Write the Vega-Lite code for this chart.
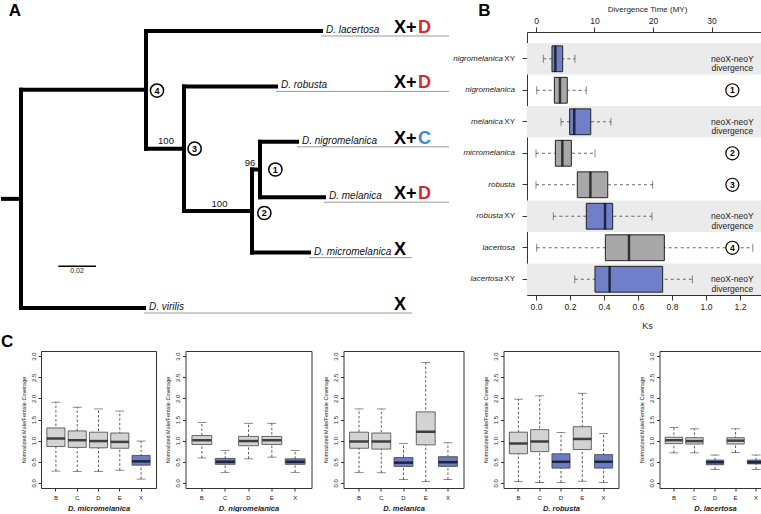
{
  "$schema": "https://vega.github.io/schema/vega-lite/v6.json",
  "padding": {"left": 0, "top": 1, "right": 0, "bottom": 0},
  "background": "white",
  "config": {
    "font": "Liberation Sans",
    "view": {"stroke": "#333", "strokeWidth": 1},
    "axis": {"grid": false, "labelColor": "#222", "tickColor": "#333", "titleColor": "#222", "titleFontWeight": "normal", "domain": false, "labelOverlap": false}
  },
  "datasets": {
    "tree": [
      {"x": 0.00105, "x2": 0.01053, "y": 3.03, "y2": 3.03},
      {"x": 0.01053, "x2": 0.01053, "y": 1.0625, "y2": 5},
      {"x": 0.01053, "x2": 0.07526, "y": 5, "y2": 5},
      {"x": 0.01053, "x2": 0.07632, "y": 1.0625, "y2": 1.0625},
      {"x": 0.07632, "x2": 0.07632, "y": 0, "y2": 2.125},
      {"x": 0.07632, "x2": 0.16842, "y": 0, "y2": 0},
      {"x": 0.07632, "x2": 0.09632, "y": 2.125, "y2": 2.125},
      {"x": 0.09632, "x2": 0.09632, "y": 1, "y2": 3.25},
      {"x": 0.09632, "x2": 0.14474, "y": 1, "y2": 1},
      {"x": 0.09632, "x2": 0.13211, "y": 3.25, "y2": 3.25},
      {"x": 0.13211, "x2": 0.13211, "y": 2.5, "y2": 4},
      {"x": 0.13211, "x2": 0.16211, "y": 4, "y2": 4},
      {"x": 0.13211, "x2": 0.13632, "y": 2.5, "y2": 2.5},
      {"x": 0.13632, "x2": 0.13632, "y": 2, "y2": 3},
      {"x": 0.13632, "x2": 0.15579, "y": 2, "y2": 2},
      {"x": 0.13632, "x2": 0.17, "y": 3, "y2": 3}
    ],
    "tips": [
      {"name": "D. lacertosa", "x": 0.16842, "y": 0, "end": 0.23579, "kar": "X+", "k2": "D"},
      {"name": "D. robusta", "x": 0.14474, "y": 1, "end": 0.23579, "kar": "X+", "k2": "D"},
      {"name": "D. nigromelanica", "x": 0.15579, "y": 2, "end": 0.23579, "kar": "X+", "k2": "C"},
      {"name": "D. melanica", "x": 0.17, "y": 3, "end": 0.23579, "kar": "X+", "k2": "D"},
      {"name": "D. micromelanica", "x": 0.16211, "y": 4, "end": 0.21632, "kar": "X", "k2": ""},
      {"name": "D. virilis", "x": 0.07526, "y": 5, "end": 0.21632, "kar": "X", "k2": ""}
    ],
    "nodes": [
      {"x": 0.1444, "y": 2.5, "n": "1"},
      {"x": 0.1386, "y": 3.285, "n": "2"},
      {"x": 0.1019, "y": 2.125, "n": "3"},
      {"x": 0.0821, "y": 1.075, "n": "4"}
    ],
    "support": [
      {"x": 0.08684, "y": 1.99, "s": "100"},
      {"x": 0.115, "y": 3.12, "s": "100"},
      {"x": 0.13105, "y": 2.39, "s": "96"}
    ],
    "scalebar": [{"x": 0.03017, "x2": 0.05, "xm": 0.04, "y": 4.247, "lab": "0.02"}],
    "letters": [
      {"x": 0.00737, "y": -0.37, "t": "A"},
      {"x": 0.25447, "y": -0.37, "t": "B"}
    ],
    "ks": [
      {"row": "nigromelanica XY", "sp": "nigromelanica", "xy": "XY", "kind": "neo", "lo": 0.043, "q1": 0.094, "med": 0.114, "q3": 0.157, "hi": 0.229, "note": "neoX-neoY\ndivergence", "node": ""},
      {"row": "nigromelanica", "sp": "nigromelanica", "xy": "", "kind": "sp", "lo": 0.004, "q1": 0.108, "med": 0.141, "q3": 0.184, "hi": 0.296, "note": "", "node": "1"},
      {"row": "melanica XY", "sp": "melanica", "xy": "XY", "kind": "neo", "lo": 0.147, "q1": 0.198, "med": 0.225, "q3": 0.322, "hi": 0.441, "note": "neoX-neoY\ndivergence", "node": ""},
      {"row": "micromelanica", "sp": "micromelanica", "xy": "", "kind": "sp", "lo": 0.0, "q1": 0.114, "med": 0.155, "q3": 0.208, "hi": 0.347, "note": "", "node": "2"},
      {"row": "robusta", "sp": "robusta", "xy": "", "kind": "sp", "lo": 0.0, "q1": 0.243, "med": 0.32, "q3": 0.422, "hi": 0.686, "note": "", "node": "3"},
      {"row": "robusta XY", "sp": "robusta", "xy": "XY", "kind": "neo", "lo": 0.102, "q1": 0.296, "med": 0.406, "q3": 0.451, "hi": 0.682, "note": "neoX-neoY\ndivergence", "node": ""},
      {"row": "lacertosa", "sp": "lacertosa", "xy": "", "kind": "sp", "lo": 0.004, "q1": 0.408, "med": 0.547, "q3": 0.755, "hi": 1.275, "note": "", "node": "4"},
      {"row": "lacertosa XY", "sp": "lacertosa", "xy": "XY", "kind": "neo", "lo": 0.228, "q1": 0.347, "med": 0.433, "q3": 0.745, "hi": 0.92, "note": "neoX-neoY\ndivergence", "node": ""}
    ],
    "cov": [
      {"sp": "micromelanica", "cat": "B", "t": "g", "lo": 0.28, "q1": 0.86, "med": 1.05, "q3": 1.3, "hi": 1.91},
      {"sp": "micromelanica", "cat": "C", "t": "g", "lo": 0.27, "q1": 0.84, "med": 1.01, "q3": 1.23, "hi": 1.79},
      {"sp": "micromelanica", "cat": "D", "t": "g", "lo": 0.27, "q1": 0.83, "med": 0.99, "q3": 1.2, "hi": 1.75},
      {"sp": "micromelanica", "cat": "E", "t": "g", "lo": 0.3, "q1": 0.82, "med": 0.97, "q3": 1.18, "hi": 1.7},
      {"sp": "micromelanica", "cat": "X", "t": "b", "lo": 0.09, "q1": 0.42, "med": 0.51, "q3": 0.65, "hi": 0.99},
      {"sp": "nigromelanica", "cat": "B", "t": "g", "lo": 0.59, "q1": 0.91, "med": 1.01, "q3": 1.12, "hi": 1.43},
      {"sp": "nigromelanica", "cat": "C", "t": "b", "lo": 0.25, "q1": 0.44, "med": 0.5, "q3": 0.58, "hi": 0.77},
      {"sp": "nigromelanica", "cat": "D", "t": "g", "lo": 0.57, "q1": 0.88, "med": 0.99, "q3": 1.1, "hi": 1.41},
      {"sp": "nigromelanica", "cat": "E", "t": "g", "lo": 0.61, "q1": 0.91, "med": 1.01, "q3": 1.1, "hi": 1.41},
      {"sp": "nigromelanica", "cat": "X", "t": "b", "lo": 0.25, "q1": 0.44, "med": 0.5, "q3": 0.57, "hi": 0.77},
      {"sp": "melanica", "cat": "B", "t": "g", "lo": 0.25, "q1": 0.82, "med": 0.98, "q3": 1.2, "hi": 1.75},
      {"sp": "melanica", "cat": "C", "t": "g", "lo": 0.24, "q1": 0.8, "med": 0.98, "q3": 1.18, "hi": 1.75},
      {"sp": "melanica", "cat": "D", "t": "b", "lo": 0.08, "q1": 0.39, "med": 0.48, "q3": 0.6, "hi": 0.93},
      {"sp": "melanica", "cat": "E", "t": "g", "lo": 0.03, "q1": 0.9, "med": 1.21, "q3": 1.68, "hi": 2.85},
      {"sp": "melanica", "cat": "X", "t": "b", "lo": 0.08, "q1": 0.39, "med": 0.49, "q3": 0.62, "hi": 0.95},
      {"sp": "robusta", "cat": "B", "t": "g", "lo": 0.03, "q1": 0.69, "med": 0.93, "q3": 1.2, "hi": 1.98},
      {"sp": "robusta", "cat": "C", "t": "g", "lo": 0.01, "q1": 0.74, "med": 0.98, "q3": 1.26, "hi": 2.06},
      {"sp": "robusta", "cat": "D", "t": "b", "lo": 0.01, "q1": 0.35, "med": 0.5, "q3": 0.69, "hi": 1.19},
      {"sp": "robusta", "cat": "E", "t": "g", "lo": 0.04, "q1": 0.79, "med": 1.04, "q3": 1.33, "hi": 2.12},
      {"sp": "robusta", "cat": "X", "t": "b", "lo": 0.01, "q1": 0.35, "med": 0.5, "q3": 0.67, "hi": 1.17},
      {"sp": "lacertosa", "cat": "B", "t": "g", "lo": 0.71, "q1": 0.93, "med": 1.01, "q3": 1.08, "hi": 1.31},
      {"sp": "lacertosa", "cat": "C", "t": "g", "lo": 0.71, "q1": 0.92, "med": 0.99, "q3": 1.07, "hi": 1.28},
      {"sp": "lacertosa", "cat": "D", "t": "b", "lo": 0.32, "q1": 0.43, "med": 0.49, "q3": 0.54, "hi": 0.66},
      {"sp": "lacertosa", "cat": "E", "t": "g", "lo": 0.72, "q1": 0.92, "med": 1.0, "q3": 1.07, "hi": 1.28},
      {"sp": "lacertosa", "cat": "X", "t": "b", "lo": 0.32, "q1": 0.45, "med": 0.49, "q3": 0.54, "hi": 0.66}
    ]
  },
  "spacing": 1,
  "vconcat": [
    {
      "hconcat": [
        {
          "width": 410,
          "height": 263,
          "view": {"stroke": null},
          "layer": [
            {
              "data": {"name": "tree"},
              "mark": {"type": "rule", "strokeWidth": 4, "strokeCap": "square", "color": "#000"},
              "encoding": {
                "x": {"field": "x", "type": "quantitative", "scale": {"domain": [0.021053, 0.236842], "nice": false, "zero": false}, "axis": null},
                "x2": {"field": "x2"},
                "y": {"field": "y", "type": "quantitative", "scale": {"domain": [0.01805, 4.7653], "nice": false, "zero": false, "reverse": true}, "axis": null},
                "y2": {"field": "y2"}
              }
            },
            {
              "data": {"name": "tips"},
              "mark": {"type": "rule", "strokeWidth": 1, "color": "#9a9a9a", "yOffset": 5},
              "encoding": {
                "x": {"field": "x", "type": "quantitative"},
                "x2": {"field": "end"},
                "y": {"field": "y", "type": "quantitative"}
              }
            },
            {
              "data": {"name": "tips"},
              "mark": {"type": "text", "align": "left", "baseline": "middle", "dx": 5, "dy": -1, "fontSize": 10, "fontStyle": "italic", "color": "#111"},
              "encoding": {
                "x": {"field": "x", "type": "quantitative"},
                "y": {"field": "y", "type": "quantitative"},
                "text": {"field": "name"}
              }
            },
            {
              "data": {"name": "tips"},
              "mark": {"type": "text", "align": "left", "baseline": "middle", "dy": -3, "fontSize": 18, "fontWeight": "bold", "color": "#000"},
              "encoding": {
                "x": {"datum": 0.20684, "type": "quantitative"},
                "y": {"field": "y", "type": "quantitative"},
                "text": {"field": "kar"}
              }
            },
            {
              "data": {"name": "tips"},
              "transform": [{"filter": "datum.k2 !== ''"}],
              "mark": {"type": "text", "align": "left", "baseline": "middle", "dy": -3, "fontSize": 18, "fontWeight": "bold"},
              "encoding": {
                "x": {"datum": 0.21947, "type": "quantitative"},
                "y": {"field": "y", "type": "quantitative"},
                "text": {"field": "k2"},
                "color": {"condition": {"test": "datum.k2 === 'C'", "value": "#3b8bc8"}, "value": "#d42a34"}
              }
            },
            {
              "data": {"name": "nodes"},
              "mark": {"type": "point", "filled": true, "fill": "white", "stroke": "#000", "strokeWidth": 1.5, "size": 175, "opacity": 1},
              "encoding": {
                "x": {"field": "x", "type": "quantitative"},
                "y": {"field": "y", "type": "quantitative"}
              }
            },
            {
              "data": {"name": "nodes"},
              "mark": {"type": "text", "align": "center", "baseline": "middle", "fontSize": 9, "fontWeight": "bold", "color": "#000"},
              "encoding": {
                "x": {"field": "x", "type": "quantitative"},
                "y": {"field": "y", "type": "quantitative"},
                "text": {"field": "n"}
              }
            },
            {
              "data": {"name": "support"},
              "mark": {"type": "text", "align": "center", "baseline": "middle", "fontSize": 9.5, "color": "#111"},
              "encoding": {
                "x": {"field": "x", "type": "quantitative"},
                "y": {"field": "y", "type": "quantitative"},
                "text": {"field": "s"}
              }
            },
            {
              "data": {"name": "scalebar"},
              "mark": {"type": "rule", "strokeWidth": 1.5, "color": "#000"},
              "encoding": {
                "x": {"field": "x", "type": "quantitative"},
                "x2": {"field": "x2"},
                "y": {"field": "y", "type": "quantitative"}
              }
            },
            {
              "data": {"name": "scalebar"},
              "mark": {"type": "text", "align": "center", "baseline": "middle", "dy": 5, "fontSize": 7, "color": "#222"},
              "encoding": {
                "x": {"field": "xm", "type": "quantitative"},
                "y": {"field": "y", "type": "quantitative"},
                "text": {"field": "lab"}
              }
            },
            {
              "data": {"name": "letters"},
              "mark": {"type": "text", "align": "center", "baseline": "middle", "fontSize": 17, "fontWeight": "bold", "color": "#000"},
              "encoding": {
                "x": {"field": "x", "type": "quantitative"},
                "y": {"field": "y", "type": "quantitative"},
                "text": {"field": "t"}
              }
            }
          ]
        },
        {
          "width": 240,
          "height": 263,
          "layer": [
            {
              "data": {"name": "ks"},
              "encoding": {
                "y": {"field": "row", "type": "nominal", "scale": {"domain": ["nigromelanica XY", "nigromelanica", "melanica XY", "micromelanica", "robusta", "robusta XY", "lacertosa", "lacertosa XY"], "paddingInner": 0, "paddingOuter": 0.175, "align": 1}, "axis": {"labels": false, "title": null, "tickSize": 5, "domain": false}}
              },
              "layer": [
                {
                  "transform": [{"filter": "datum.xy === 'XY'"}],
                  "mark": {"type": "bar", "color": "#ebebeb", "height": {"band": 1}},
                  "encoding": {
                    "x": {"datum": -0.0529, "type": "quantitative", "scale": {"domain": [-0.0529, 1.3588], "nice": false, "zero": false}, "axis": {"orient": "bottom", "values": [0, 0.2, 0.4, 0.6, 0.8, 1.0, 1.2], "tickCount": 20, "format": ".1f", "title": "Ks", "labelFontSize": 8.5, "titleFontSize": 9, "tickSize": 5, "titlePadding": 11, "labelPadding": 2, "labelOverlap": false}},
                    "x2": {"datum": 1.3588}
                  }
                },
                {
                  "mark": {"type": "rule", "strokeDash": [3, 3], "strokeWidth": 0.9, "color": "#555"},
                  "encoding": {"x": {"field": "lo", "type": "quantitative"}, "x2": {"field": "hi"}}
                },
                {
                  "mark": {"type": "tick", "orient": "vertical", "size": 8, "thickness": 1, "color": "#555"},
                  "encoding": {"x": {"field": "lo", "type": "quantitative"}}
                },
                {
                  "mark": {"type": "tick", "orient": "vertical", "size": 8, "thickness": 1, "color": "#555"},
                  "encoding": {"x": {"field": "hi", "type": "quantitative"}}
                },
                {
                  "mark": {"type": "bar", "height": {"band": 0.82}, "stroke": "#222", "strokeWidth": 1},
                  "encoding": {
                    "x": {"field": "q1", "type": "quantitative"},
                    "x2": {"field": "q3"},
                    "fill": {"condition": {"test": "datum.kind === 'neo'", "value": "#7080c8"}, "value": "#a8a8a8"}
                  }
                },
                {
                  "mark": {"type": "tick", "orient": "vertical", "size": 26, "thickness": 2.5, "color": "#000"},
                  "encoding": {"x": {"field": "med", "type": "quantitative"}}
                },
                {
                  "transform": [{"filter": "datum.xy === 'XY'"}],
                  "mark": {"type": "text", "align": "center", "baseline": "middle", "fontSize": 8.5, "lineBreak": "\n", "lineHeight": 9.5, "color": "#222"},
                  "encoding": {"x": {"datum": 1.155, "type": "quantitative"}, "text": {"field": "note"}}
                },
                {
                  "transform": [{"filter": "datum.xy !== 'XY'"}],
                  "mark": {"type": "point", "filled": true, "fill": "white", "stroke": "#000", "strokeWidth": 1.2, "size": 170, "opacity": 1},
                  "encoding": {"x": {"datum": 1.155, "type": "quantitative"}}
                },
                {
                  "transform": [{"filter": "datum.xy !== 'XY'"}],
                  "mark": {"type": "text", "align": "center", "baseline": "middle", "fontSize": 8.5, "fontWeight": "bold", "color": "#000"},
                  "encoding": {"x": {"datum": 1.155, "type": "quantitative"}, "text": {"field": "node"}}
                },
                {
                  "transform": [{"filter": "datum.xy !== 'XY'"}],
                  "mark": {"type": "text", "align": "right", "baseline": "middle", "dx": -12, "fontSize": 8, "fontStyle": "italic", "color": "#222"},
                  "encoding": {"x": {"datum": -0.0529, "type": "quantitative"}, "text": {"field": "sp"}}
                },
                {
                  "transform": [{"filter": "datum.xy === 'XY'"}],
                  "mark": {"type": "text", "align": "right", "baseline": "middle", "dx": -12, "fontSize": 8, "color": "#222"},
                  "encoding": {"x": {"datum": -0.0529, "type": "quantitative"}, "text": {"field": "xy"}}
                },
                {
                  "transform": [{"filter": "datum.xy === 'XY'"}],
                  "mark": {"type": "text", "align": "right", "baseline": "middle", "dx": -24, "fontSize": 8, "fontStyle": "italic", "color": "#222"},
                  "encoding": {"x": {"datum": -0.0529, "type": "quantitative"}, "text": {"field": "sp"}}
                }
              ]
            },
            {
              "data": {"values": [{}]},
              "mark": {"type": "point", "opacity": 0},
              "encoding": {
                "x": {"datum": 0, "type": "quantitative", "scale": {"domain": [-1.538, 39.487], "nice": false, "zero": false}, "axis": {"orient": "top", "values": [0, 10, 20, 30], "tickCount": 20, "title": "Divergence Time (MY)", "labelFontSize": 8.5, "titleFontSize": 8, "tickSize": 5, "titlePadding": 3, "labelPadding": 2}}
              }
            }
          ],
          "resolve": {"scale": {"x": "independent"}}
        }
      ],
      "spacing": 76,
      "bounds": "flush"
    },
    {
      "title": {"text": "C", "anchor": "start", "frame": "group", "fontSize": 17, "fontWeight": "bold", "color": "#000", "dx": -40, "offset": 0},
      "spacing": 7.5,
      "hconcat": [
        {
          "width": 115, "height": 137,
          "data": {"name": "cov"},
          "transform": [{"filter": "datum.sp === 'micromelanica'"}],
          "encoding": {"x": {"field": "cat", "type": "nominal", "scale": {"paddingInner": 0.15, "paddingOuter": 0.275}, "axis": {"title": "D. micromelanica", "labelAngle": 0, "labelFontSize": 6, "tickSize": 3, "labelPadding": 3, "titleFontSize": 7.5, "titleFontStyle": "italic", "titleFontWeight": "bold", "titlePadding": 4}}},
          "layer": [
            {"mark": {"type": "rule", "strokeDash": [2.5, 2], "strokeWidth": 0.8, "color": "#333"}, "encoding": {"y": {"field": "lo", "type": "quantitative", "scale": {"domain": [-0.12, 3.12], "nice": false, "zero": false}, "axis": {"values": [0, 0.5, 1, 1.5, 2, 2.5, 3], "tickCount": 20, "format": ".1f", "labelAngle": 270, "labelAlign": "center", "labelBaseline": "bottom", "labelFontSize": 6, "tickSize": 3, "labelPadding": 2, "labelOverlap": false, "title": "Normalized Male/Female Coverage", "titleFontSize": 5.5, "titlePadding": 4}}, "y2": {"field": "hi"}}},
            {"mark": {"type": "tick", "size": 9, "thickness": 0.8, "color": "#333"}, "encoding": {"y": {"field": "lo", "type": "quantitative"}}},
            {"mark": {"type": "tick", "size": 9, "thickness": 0.8, "color": "#333"}, "encoding": {"y": {"field": "hi", "type": "quantitative"}}},
            {"mark": {"type": "bar", "stroke": "#444", "strokeWidth": 0.8}, "encoding": {"y": {"field": "q1", "type": "quantitative"}, "y2": {"field": "q3"}, "fill": {"condition": {"test": "datum.t === 'b'", "value": "#6b7bc4"}, "value": "#d3d3d3"}}},
            {"mark": {"type": "tick", "size": 18, "thickness": 2.5, "color": "#000"}, "encoding": {"y": {"field": "med", "type": "quantitative"}}}
          ]
        },
        {
          "spacing": 10,
          "hconcat": [
            {
              "width": 126, "height": 137,
              "data": {"name": "cov"},
              "transform": [{"filter": "datum.sp === 'nigromelanica'"}],
              "encoding": {"x": {"field": "cat", "type": "nominal", "scale": {"paddingInner": 0.15, "paddingOuter": 0.275}, "axis": {"title": "D. nigromelanica", "labelAngle": 0, "labelFontSize": 6, "tickSize": 3, "labelPadding": 3, "titleFontSize": 7.5, "titleFontStyle": "italic", "titleFontWeight": "bold", "titlePadding": 4}}},
              "layer": [
                {"mark": {"type": "rule", "strokeDash": [2.5, 2], "strokeWidth": 0.8, "color": "#333"}, "encoding": {"y": {"field": "lo", "type": "quantitative", "scale": {"domain": [-0.12, 3.12], "nice": false, "zero": false}, "axis": {"values": [0, 0.5, 1, 1.5, 2, 2.5, 3], "tickCount": 20, "format": ".1f", "labelAngle": 270, "labelAlign": "center", "labelBaseline": "bottom", "labelFontSize": 6, "tickSize": 3, "labelPadding": 2, "labelOverlap": false, "title": "Normalized Male/Female Coverage", "titleFontSize": 5.5, "titlePadding": 4}}, "y2": {"field": "hi"}}},
                {"mark": {"type": "tick", "size": 9, "thickness": 0.8, "color": "#333"}, "encoding": {"y": {"field": "lo", "type": "quantitative"}}},
                {"mark": {"type": "tick", "size": 9, "thickness": 0.8, "color": "#333"}, "encoding": {"y": {"field": "hi", "type": "quantitative"}}},
                {"mark": {"type": "bar", "stroke": "#444", "strokeWidth": 0.8}, "encoding": {"y": {"field": "q1", "type": "quantitative"}, "y2": {"field": "q3"}, "fill": {"condition": {"test": "datum.t === 'b'", "value": "#6b7bc4"}, "value": "#d3d3d3"}}},
                {"mark": {"type": "tick", "size": 19, "thickness": 2.5, "color": "#000"}, "encoding": {"y": {"field": "med", "type": "quantitative"}}}
              ]
            },
            {
              "spacing": 18,
              "hconcat": [
                {
                  "width": 120, "height": 137,
                  "data": {"name": "cov"},
                  "transform": [{"filter": "datum.sp === 'melanica'"}],
                  "encoding": {"x": {"field": "cat", "type": "nominal", "scale": {"paddingInner": 0.15, "paddingOuter": 0.275}, "axis": {"title": "D. melanica", "labelAngle": 0, "labelFontSize": 6, "tickSize": 3, "labelPadding": 3, "titleFontSize": 7.5, "titleFontStyle": "italic", "titleFontWeight": "bold", "titlePadding": 4}}},
                  "layer": [
                    {"mark": {"type": "rule", "strokeDash": [2.5, 2], "strokeWidth": 0.8, "color": "#333"}, "encoding": {"y": {"field": "lo", "type": "quantitative", "scale": {"domain": [-0.12, 3.12], "nice": false, "zero": false}, "axis": {"values": [0, 0.5, 1, 1.5, 2, 2.5, 3], "tickCount": 20, "format": ".1f", "labelAngle": 270, "labelAlign": "center", "labelBaseline": "bottom", "labelFontSize": 6, "tickSize": 3, "labelPadding": 2, "labelOverlap": false, "title": "Normalized Male/Female Coverage", "titleFontSize": 5.5, "titlePadding": 4}}, "y2": {"field": "hi"}}},
                    {"mark": {"type": "tick", "size": 9, "thickness": 0.8, "color": "#333"}, "encoding": {"y": {"field": "lo", "type": "quantitative"}}},
                    {"mark": {"type": "tick", "size": 9, "thickness": 0.8, "color": "#333"}, "encoding": {"y": {"field": "hi", "type": "quantitative"}}},
                    {"mark": {"type": "bar", "stroke": "#444", "strokeWidth": 0.8}, "encoding": {"y": {"field": "q1", "type": "quantitative"}, "y2": {"field": "q3"}, "fill": {"condition": {"test": "datum.t === 'b'", "value": "#6b7bc4"}, "value": "#d3d3d3"}}},
                    {"mark": {"type": "tick", "size": 19, "thickness": 2.5, "color": "#000"}, "encoding": {"y": {"field": "med", "type": "quantitative"}}}
                  ]
                },
                {
                  "spacing": 19,
                  "hconcat": [
                    {
                      "width": 115, "height": 137,
                      "data": {"name": "cov"},
                      "transform": [{"filter": "datum.sp === 'robusta'"}],
                      "encoding": {"x": {"field": "cat", "type": "nominal", "scale": {"paddingInner": 0.15, "paddingOuter": 0.275}, "axis": {"title": "D. robusta", "labelAngle": 0, "labelFontSize": 6, "tickSize": 3, "labelPadding": 3, "titleFontSize": 7.5, "titleFontStyle": "italic", "titleFontWeight": "bold", "titlePadding": 4}}},
                      "layer": [
                        {"mark": {"type": "rule", "strokeDash": [2.5, 2], "strokeWidth": 0.8, "color": "#333"}, "encoding": {"y": {"field": "lo", "type": "quantitative", "scale": {"domain": [-0.12, 3.12], "nice": false, "zero": false}, "axis": {"values": [0, 0.5, 1, 1.5, 2, 2.5, 3], "tickCount": 20, "format": ".1f", "labelAngle": 270, "labelAlign": "center", "labelBaseline": "bottom", "labelFontSize": 6, "tickSize": 3, "labelPadding": 2, "labelOverlap": false, "title": "Normalized Male/Female Coverage", "titleFontSize": 5.5, "titlePadding": 4}}, "y2": {"field": "hi"}}},
                        {"mark": {"type": "tick", "size": 9, "thickness": 0.8, "color": "#333"}, "encoding": {"y": {"field": "lo", "type": "quantitative"}}},
                        {"mark": {"type": "tick", "size": 9, "thickness": 0.8, "color": "#333"}, "encoding": {"y": {"field": "hi", "type": "quantitative"}}},
                        {"mark": {"type": "bar", "stroke": "#444", "strokeWidth": 0.8}, "encoding": {"y": {"field": "q1", "type": "quantitative"}, "y2": {"field": "q3"}, "fill": {"condition": {"test": "datum.t === 'b'", "value": "#6b7bc4"}, "value": "#d3d3d3"}}},
                        {"mark": {"type": "tick", "size": 18, "thickness": 2.5, "color": "#000"}, "encoding": {"y": {"field": "med", "type": "quantitative"}}}
                      ]
                    },
                    {
                      "width": 111, "height": 137,
                      "data": {"name": "cov"},
                      "transform": [{"filter": "datum.sp === 'lacertosa'"}],
                      "encoding": {"x": {"field": "cat", "type": "nominal", "scale": {"paddingInner": 0.15, "paddingOuter": 0.275}, "axis": {"title": "D. lacertosa", "labelAngle": 0, "labelFontSize": 6, "tickSize": 3, "labelPadding": 3, "titleFontSize": 7.5, "titleFontStyle": "italic", "titleFontWeight": "bold", "titlePadding": 4}}},
                      "layer": [
                        {"mark": {"type": "rule", "strokeDash": [2.5, 2], "strokeWidth": 0.8, "color": "#333"}, "encoding": {"y": {"field": "lo", "type": "quantitative", "scale": {"domain": [-0.12, 3.12], "nice": false, "zero": false}, "axis": {"values": [0, 0.5, 1, 1.5, 2, 2.5, 3], "tickCount": 20, "format": ".1f", "labelAngle": 270, "labelAlign": "center", "labelBaseline": "bottom", "labelFontSize": 6, "tickSize": 3, "labelPadding": 2, "labelOverlap": false, "title": "Normalized Male/Female Coverage", "titleFontSize": 5.5, "titlePadding": 4}}, "y2": {"field": "hi"}}},
                        {"mark": {"type": "tick", "size": 9, "thickness": 0.8, "color": "#333"}, "encoding": {"y": {"field": "lo", "type": "quantitative"}}},
                        {"mark": {"type": "tick", "size": 9, "thickness": 0.8, "color": "#333"}, "encoding": {"y": {"field": "hi", "type": "quantitative"}}},
                        {"mark": {"type": "bar", "stroke": "#444", "strokeWidth": 0.8}, "encoding": {"y": {"field": "q1", "type": "quantitative"}, "y2": {"field": "q3"}, "fill": {"condition": {"test": "datum.t === 'b'", "value": "#6b7bc4"}, "value": "#d3d3d3"}}},
                        {"mark": {"type": "tick", "size": 17, "thickness": 2.5, "color": "#000"}, "encoding": {"y": {"field": "med", "type": "quantitative"}}}
                      ]
                    }
                  ]
                }
              ]
            }
          ]
        }
      ]
    }
  ]
}
